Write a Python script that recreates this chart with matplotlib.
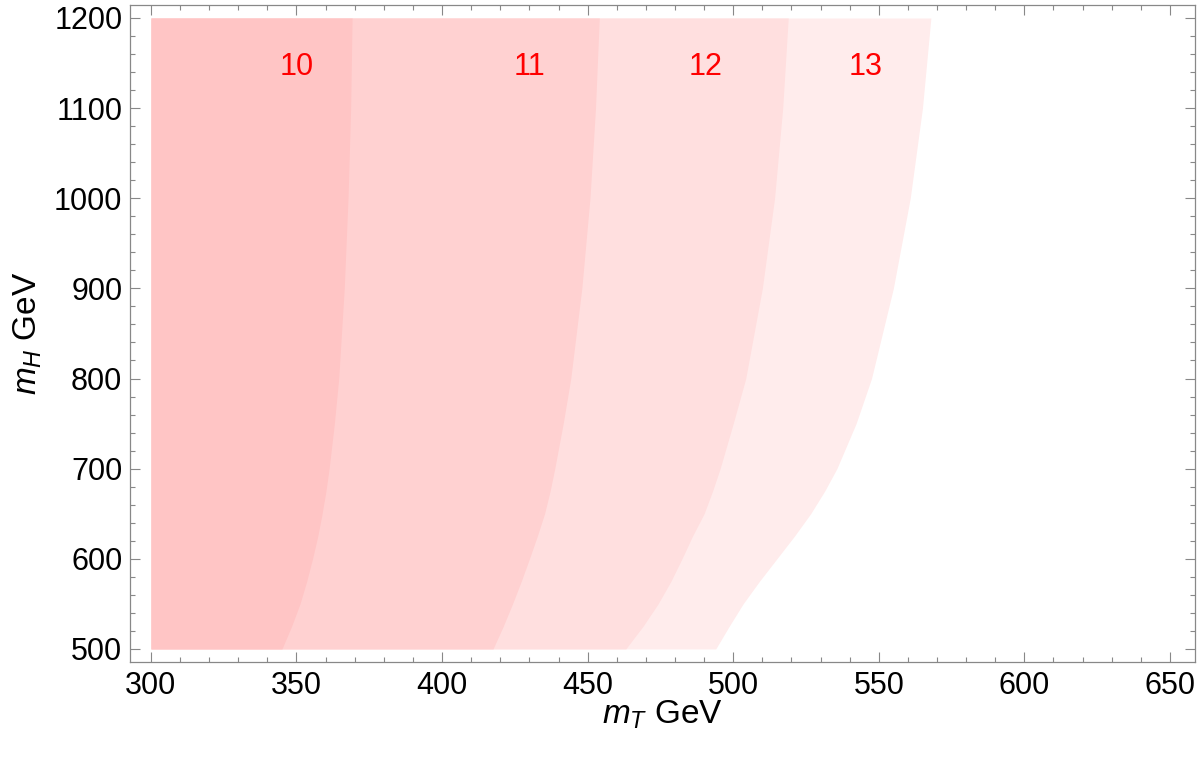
"""Nested exclusion regions in the (m_T, m_H) plane, Mathematica-style frame."""
import numpy as np
import matplotlib
matplotlib.use('Agg')
import matplotlib.pyplot as plt
from matplotlib.ticker import MultipleLocator

plt.rcParams['font.family'] = ['Liberation Sans', 'DejaVu Sans']
plt.rcParams['mathtext.fontset'] = 'custom'
plt.rcParams['mathtext.rm'] = 'Liberation Sans'
plt.rcParams['mathtext.it'] = 'Liberation Sans:italic'

# m_H grid (GeV) and the m_T boundary of each region
m_H = [500, 525, 550, 575, 600, 625, 650, 675, 700, 750, 800, 900, 1000, 1100, 1200]
edge_10 = [345.0, 348.3, 351.2, 353.5, 355.5, 357.3, 358.8, 360.1, 361.2, 363.0, 364.5, 366.4, 367.7, 368.6, 369.1]
edge_11 = [417.5, 421.0, 424.2, 427.2, 430.0, 432.7, 435.2, 437.1, 438.7, 441.6, 444.2, 448.0, 450.8, 452.7, 454.0]
edge_12 = [463.1, 469.0, 474.2, 478.6, 482.4, 486.0, 490.0, 492.9, 495.5, 500.0, 504.3, 510.0, 514.2, 517.0, 518.9]
edge_13 = [494.0, 498.6, 503.4, 509.0, 515.0, 521.0, 526.6, 531.4, 535.6, 542.2, 547.5, 555.0, 560.8, 565.0, 567.9]
m_T_min = 300

labels = ['10', '11', '12', '13']
label_x = [350, 430, 490.5, 545.5]
label_y = 1146

edges = [edge_10, edge_11, edge_12, edge_13]
colors = ['#ffc5c5', '#ffd1d1', '#ffdfdf', '#ffecec']


def main():
    fig = plt.figure(figsize=(12, 7.57), dpi=100)
    ax = fig.add_axes([0.1083, 0.1255, 0.8875, 0.868])

    # widest (lightest) region first, narrower ones on top
    for edge, col in reversed(list(zip(edges, colors))):
        ax.fill_betweenx(m_H, m_T_min, edge, color=col, lw=0, zorder=1)

    for lab, lx in zip(labels, label_x):
        ax.text(lx, label_y, lab, color='red', fontsize=22, ha='center', va='center', zorder=3)

    ax.set_xlim(292.8, 658.6)
    ax.set_ylim(485.5, 1214.5)
    ax.xaxis.set_major_locator(MultipleLocator(50))
    ax.xaxis.set_minor_locator(MultipleLocator(10))
    ax.yaxis.set_major_locator(MultipleLocator(100))
    ax.yaxis.set_minor_locator(MultipleLocator(20))
    ax.tick_params(which='both', direction='in', top=True, right=True, color='#888888', width=0.8)
    ax.tick_params(which='major', length=7, labelsize=22)
    ax.tick_params(axis='x', which='major', pad=6.5)
    ax.tick_params(axis='y', which='major', pad=5.5)
    ax.tick_params(which='minor', length=3.5)
    for s in ax.spines.values():
        s.set_color('#888888')
        s.set_linewidth(0.9)

    ax.set_xlabel('$m_T$ GeV', fontsize=24, labelpad=-2)
    ax.set_ylabel('$m_H$ GeV', fontsize=24, labelpad=7)

    fig.savefig('out.png', dpi=100)


if __name__ == '__main__':
    main()
